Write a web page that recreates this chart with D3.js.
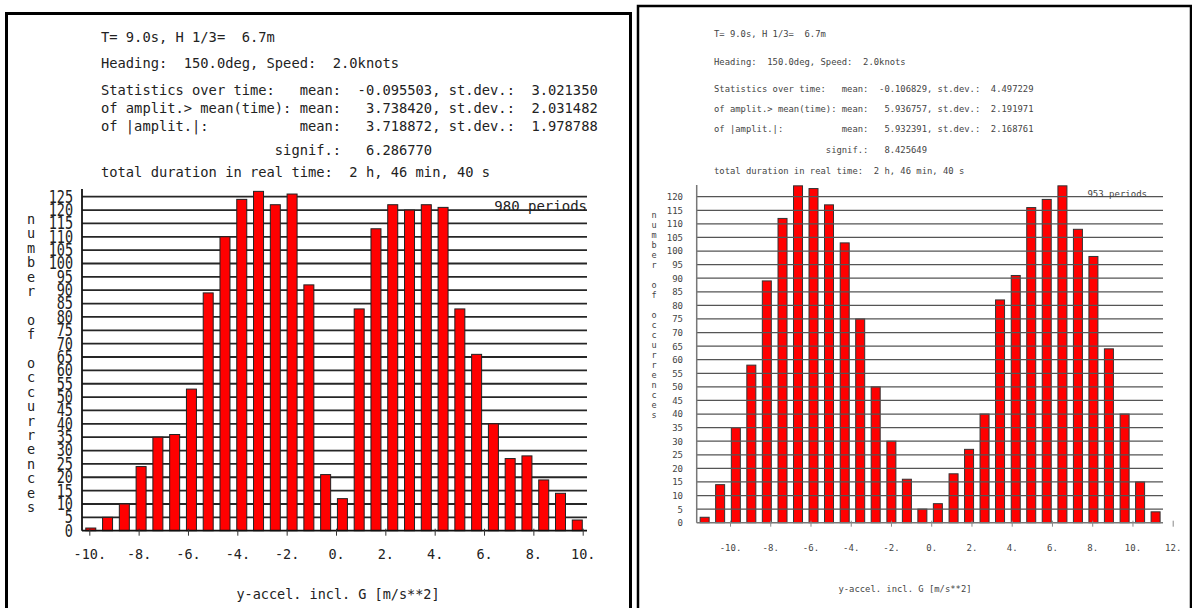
<!DOCTYPE html>
<html><head><meta charset="utf-8">
<script src="https://cdn.jsdelivr.net/npm/d3@7"></script>
<style>
html,body{margin:0;padding:0;background:#fff;}
svg{display:block;}
text{white-space:pre;}
</style>
</head><body>
<svg id="chart" width="1192" height="608"></svg>
<script>
// ---------------- data ----------------
const leftBinCenters = [-9.94,-9.26,-8.58,-7.90,-7.22,-6.54,-5.86,-5.18,-4.50,-3.82,-3.14,-2.46,-1.78,-1.10,-0.42,
                        0.26,0.94,1.62,2.30,2.98,3.66,4.34,5.02,5.70,6.38,7.06,7.74,8.42,9.10,9.78];
const leftCounts = [1,5,10,24,35,36,53,89,110,124,127,122,126,92,21,12,83,113,122,120,122,121,83,66,40,27,28,19,14,4];
const leftYTicks = [0,5,10,15,20,25,30,35,40,45,50,55,60,65,70,75,80,85,90,95,100,105,110,115,120,125];
const leftXTicks = [-10,-8,-6,-4,-2,0,2,4,6,8,10];
const leftHeader = [
  "T= 9.0s, H 1/3=  6.7m",
  "Heading:  150.0deg, Speed:  2.0knots",
  "Statistics over time:   mean:  -0.095503, st.dev.:  3.021350",
  "of amplit.> mean(time): mean:   3.738420, st.dev.:  2.031482",
  "of |amplit.|:           mean:   3.718872, st.dev.:  1.978788",
  "                     signif.:   6.286770",
  "total duration in real time:  2 h, 46 min, 40 s"
];
const leftPeriods = "980 periods";

const rightBinCenters = [-11.26,-10.49,-9.71,-8.94,-8.17,-7.39,-6.62,-5.85,-5.08,-4.30,-3.53,-2.76,-1.98,-1.21,-0.44,
                         0.33,1.11,1.88,2.65,3.42,4.20,4.97,5.74,6.52,7.29,8.06,8.83,9.61,10.38,11.15];
const rightCounts = [2,14,35,58,89,112,124,123,117,103,75,50,30,16,5,7,18,27,40,82,91,116,119,124,108,98,64,40,15,4];
const rightYTicks = [0,5,10,15,20,25,30,35,40,45,50,55,60,65,70,75,80,85,90,95,100,105,110,115,120];
const rightXTicks = [-10,-8,-6,-4,-2,0,2,4,6,8,10,12];
const rightHeader = [
  "T= 9.0s, H 1/3=  6.7m",
  "Heading:  150.0deg, Speed:  2.0knots",
  "Statistics over time:   mean:  -0.106829, st.dev.:  4.497229",
  "of amplit.> mean(time): mean:   5.936757, st.dev.:  2.191971",
  "of |amplit.|:           mean:   5.932391, st.dev.:  2.168761",
  "                     signif.:   8.425649",
  "total duration in real time:  2 h, 46 min, 40 s"
];
const rightPeriods = "953 periods";

const xTitle = "y-accel. incl. G [m/s**2]";
const yTitle = "number of occurrences";

// ---------------- drawing ----------------
const svg = d3.select("#chart");
const MONO = "'DejaVu Sans Mono', 'Liberation Mono', monospace";

function drawPanel(c) {
  const g = svg.append("g");
  g.append("rect").attr("x", c.frame[0]).attr("y", c.frame[1]).attr("width", c.frame[2]).attr("height", c.frame[3])
    .attr("fill", "none").attr("stroke", "#000").attr("stroke-width", c.frameW);

  g.selectAll("text.hdr").data(c.header).join("text").attr("class", "hdr")
    .attr("x", c.hdrX).attr("y", (d, i) => c.hdrY[i])
    .attr("font-family", MONO).attr("font-size", c.hdrFont).attr("fill", c.textColor)
    .attr("xml:space", "preserve").text(d => d);

  const x = d3.scaleLinear().domain(c.xDomain).range(c.xRange);
  const y = d3.scaleLinear().domain(c.yDomain).range(c.yRange);
  const data = c.centers.map((v, i) => ({ c: v, n: c.counts[i] }));

  const grid = () => g.append("g").selectAll("line").data(c.yTicks.filter(t => t > 0)).join("line")
    .attr("x1", c.plotL).attr("x2", c.plotR).attr("y1", d => y(d)).attr("y2", d => y(d))
    .attr("stroke", c.gridColor).attr("stroke-width", c.gridW);

  if (!c.gridOver) grid();

  g.append("g").selectAll("rect").data(data).join("rect")
    .attr("x", d => x(d.c) - c.barW / 2).attr("width", c.barW)
    .attr("y", d => y(d.n)).attr("height", d => y(0) - y(d.n))
    .attr("fill", "#ff0000").attr("stroke", c.barStroke).attr("stroke-width", 1);

  if (c.gridOver) grid();

  g.append("line").attr("x1", c.plotL).attr("x2", c.plotL).attr("y1", c.axisTop).attr("y2", y(0))
    .attr("stroke", c.axisColor).attr("stroke-width", c.axisW);
  g.append("line").attr("x1", c.plotL).attr("x2", c.plotR).attr("y1", y(0)).attr("y2", y(0))
    .attr("stroke", c.axisColor).attr("stroke-width", c.axisW);

  const ya = g.append("g").attr("transform", `translate(${c.yLabX},0)`)
    .call(d3.axisLeft(y).tickValues(c.yTicks).tickSize(0).tickPadding(0).tickFormat(d3.format("d")));
  ya.select(".domain").remove();
  ya.selectAll("text").attr("font-family", MONO).attr("font-size", c.yTickFont).attr("fill", c.textColor)
    .attr("transform", `scale(1,${c.yTickStretch})`);

  const xa = g.append("g").attr("transform", `translate(0,${y(0)})`)
    .call(d3.axisBottom(x).tickValues(c.xTicks).tickSize(c.xTickLen).tickPadding(c.xTickPad).tickFormat(d => d + "."));
  xa.select(".domain").remove();
  xa.selectAll(".tick line").attr("stroke", c.tickColor).attr("y1", -2).attr("stroke-width", 1);
  xa.selectAll("text").attr("font-family", MONO).attr("font-size", c.xTickFont).attr("fill", c.textColor);

  g.append("text").attr("x", c.xTitleX).attr("y", c.xTitleY).attr("text-anchor", "middle")
    .attr("font-family", MONO).attr("font-size", c.xTitleFont).attr("fill", c.textColor).text(xTitle);

  g.append("g").selectAll("text").data(yTitle.split("")).join("text")
    .attr("x", c.yTitleX).attr("y", (d, i) => c.yTitleY + i * c.yTitleStep)
    .attr("text-anchor", "middle").attr("font-family", MONO).attr("font-size", c.yTitleFont)
    .attr("fill", c.textColor).text(d => d);

  g.append("text").attr("x", c.perX).attr("y", c.perY).attr("text-anchor", "end")
    .attr("font-family", MONO).attr("font-size", c.perFont).attr("fill", c.textColor).text(c.periods);
}

drawPanel({
  frame: [6.5, 13.5, 624, 620], frameW: 3,
  header: leftHeader, hdrX: 101, hdrY: [42, 68, 95, 113, 131, 155, 177], hdrFont: 13.75,
  textColor: "#222",
  centers: leftBinCenters, counts: leftCounts, yTicks: leftYTicks, xTicks: leftXTicks,
  xDomain: [-10, 10], xRange: [89.3, 582.7], yDomain: [0, 125], yRange: [530.7, 196.7],
  plotL: 82, plotR: 587, axisTop: 189,
  barW: 10, barStroke: "#222",
  gridOver: false, gridColor: "#262626", gridW: 1.8,
  axisColor: "#111", axisW: 1.8, tickColor: "#333",
  yLabX: 73, yTickFont: 13.5, yTickStretch: 1.25,
  xTickLen: 5, xTickPad: 14, xTickFont: 13.5,
  xTitleX: 338, xTitleY: 599, xTitleFont: 13.5,
  yTitleX: 31, yTitleY: 224, yTitleStep: 14.4, yTitleFont: 13.5,
  periods: leftPeriods, perX: 587, perY: 211, perFont: 14
});

drawPanel({
  frame: [638, 6, 553, 620], frameW: 2.5,
  header: rightHeader, hdrX: 714, hdrY: [36.5, 64.5, 91.5, 111.5, 131.5, 152.5, 173.5], hdrFont: 8.85,
  textColor: "#444",
  centers: rightBinCenters, counts: rightCounts, yTicks: rightYTicks, xTicks: rightXTicks,
  xDomain: [-10, 12], xRange: [730, 1172.7], yDomain: [0, 120], yRange: [522.7, 196.7],
  plotL: 696.7, plotR: 1163, axisTop: 185,
  barW: 9, barStroke: "#333",
  gridOver: true, gridColor: "#555", gridW: 1.3,
  axisColor: "#777", axisW: 1.5, tickColor: "#888",
  yLabX: 683, yTickFont: 9, yTickStretch: 1,
  xTickLen: 4, xTickPad: 18, xTickFont: 9,
  xTitleX: 905, xTitleY: 591.5, xTitleFont: 8.85,
  yTitleX: 654, yTitleY: 218, yTitleStep: 10, yTitleFont: 8.5,
  periods: rightPeriods, perX: 1147, perY: 197, perFont: 9
});
</script>
</body></html>
